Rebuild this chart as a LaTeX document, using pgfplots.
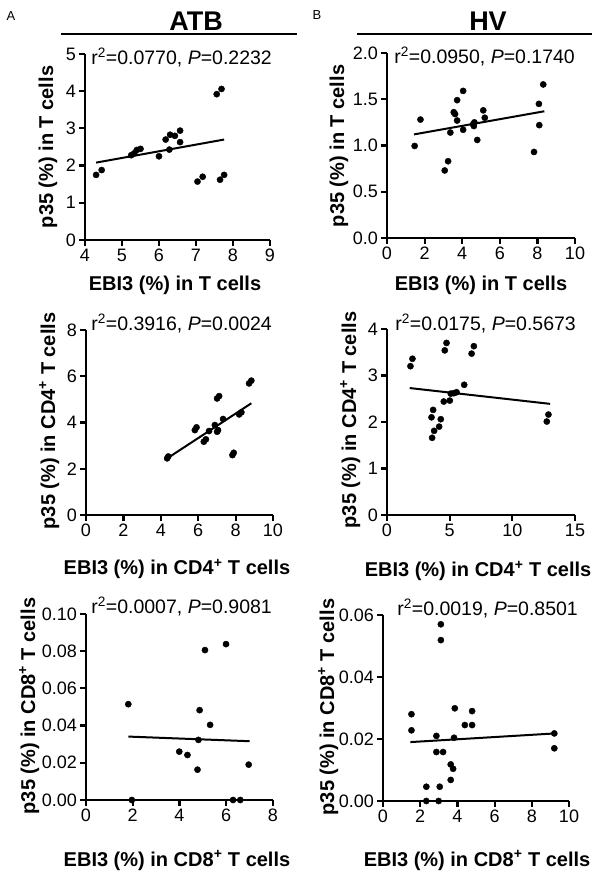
\documentclass[border=0pt]{standalone}
\usepackage{pgfplots}
\pgfplotsset{compat=1.18}
\usepackage{fontspec}
\setmainfont{Liberation Sans}
\pgfplotsset{
  panel/.style={
    scale only axis, anchor=south west,
    axis lines=left, axis line style={-, line width=2.2pt},
    tick align=outside, major tick length=6pt,
    tick style={line width=2.2pt, black},
    tick label style={font=\fontsize{18}{18}\selectfont, inner sep=3pt},
    /pgf/number format/assume math mode=true,
    scaled ticks=false,
    clip=false,
    minor tick num=0,
  },
  dots/.style={only marks, mark=*, mark size=3.1pt, black},
  fitl/.style={no marks, line width=2pt, black},
}
\newcommand{\lab}{\bfseries\fontsize{20}{20}\selectfont}
\newcommand{\ann}{\fontsize{19.5}{19.5}\selectfont}
\begin{document}
\begin{tikzpicture}[t/.style={inner sep=0pt}]
\path[use as bounding box] (0pt,0pt) rectangle (600pt,875pt);
% titles
\node[t, font=\bfseries\fontsize{27}{27}\selectfont, anchor=base] at (196pt,844pt) {ATB};
\draw[line width=1.6pt] (61pt,841pt) -- (297pt,841pt);
\node[t, font=\bfseries\fontsize{27}{27}\selectfont, anchor=base] at (488pt,844pt) {HV};
\draw[line width=1.6pt] (357pt,841pt) -- (592pt,841pt);
\node[t, font=\fontsize{13}{13}\selectfont, anchor=base] at (11pt,854pt) {A};
\node[t, font=\fontsize{13}{13}\selectfont, anchor=base] at (317pt,855pt) {B};

% Panel 1: ATB T cells
\begin{axis}[panel, at={(85pt,635pt)}, width=185pt, height=186pt,
  xmin=4, xmax=9, ymin=0, ymax=5, xtick={4,5,6,7,8,9}, ytick={0,1,2,3,4,5}]
\addplot[dots] coordinates {(4.30,1.75) (4.45,1.88) (5.25,2.28) (5.33,2.33) (5.40,2.42) (5.50,2.45)
 (6.00,2.25) (6.18,2.70) (6.28,2.43) (6.30,2.83) (6.43,2.80) (6.57,2.94) (6.57,2.63)
 (7.04,1.57) (7.18,1.70) (7.56,3.92) (7.69,4.06) (7.65,1.62) (7.76,1.75)};
\addplot[fitl] coordinates {(4.30,2.08) (7.76,2.70)};
\end{axis}
\node[t, font=\ann, anchor=base east] at (272pt,810pt) {r\textsuperscript{2}=0.0770, \textit{P}=0.2232};
\node[t, font=\lab, anchor=base] at (175pt,584pt) {EBI3 (\%) in T cells};
\node[t, font=\lab, anchor=base, rotate=90] at (53pt,728pt) {p35 (\%) in T cells};

% Panel 2: HV T cells
\begin{axis}[panel, at={(387pt,637pt)}, width=188pt, height=185pt,
  xmin=0, xmax=10, ymin=0, ymax=2, xtick={0,2,4,6,8,10}, ytick={0,0.5,1,1.5,2},
  yticklabel style={/pgf/number format/.cd, fixed, fixed zerofill, precision=1}]
\addplot[dots] coordinates {(1.47,0.995) (1.78,1.28) (3.07,0.73) (3.25,0.83) (3.37,1.14) (3.55,1.36)
 (3.62,1.34) (3.73,1.49) (3.73,1.27) (4.05,1.59) (4.05,1.17) (4.58,1.23) (4.62,1.21) (4.65,1.25)
 (4.80,1.06) (5.12,1.38) (5.20,1.30) (7.82,0.93) (8.08,1.45) (8.10,1.22) (8.31,1.66)};
\addplot[fitl] coordinates {(1.44,1.12) (8.37,1.37)};
\end{axis}
\node[t, font=\ann, anchor=base east] at (575pt,811pt) {r\textsuperscript{2}=0.0950, \textit{P}=0.1740};
\node[t, font=\lab, anchor=base] at (481pt,584pt) {EBI3 (\%) in T cells};
\node[t, font=\lab, anchor=base, rotate=90] at (344pt,729pt) {p35 (\%) in T cells};

% Panel 3: ATB CD4
\begin{axis}[panel, at={(86pt,360pt)}, width=187pt, height=185pt,
  xmin=0, xmax=10, ymin=0, ymax=8, xtick={0,2,4,6,8,10}, ytick={0,2,4,6,8}]
\addplot[dots] coordinates {(4.34,2.45) (4.40,2.53) (5.82,3.67) (5.91,3.79) (6.30,3.17) (6.41,3.27)
 (6.58,3.63) (6.89,3.89) (7.01,5.04) (7.12,5.14) (7.01,3.60) (7.06,3.67) (7.33,4.15)
 (7.83,2.59) (7.90,2.69) (8.19,4.35) (8.31,4.44) (8.72,5.69) (8.84,5.81)};
\addplot[fitl] coordinates {(4.27,2.41) (8.84,4.83)};
\end{axis}
\node[t, font=\ann, anchor=base east] at (272pt,544pt) {r\textsuperscript{2}=0.3916, \textit{P}=0.0024};
\node[t, font=\lab, anchor=base] at (177pt,300pt) {EBI3 (\%) in CD4\textsuperscript{+} T cells};
\node[t, font=\lab, anchor=base, rotate=90] at (55pt,454pt) {p35 (\%) in CD4\textsuperscript{+} T cells};

% Panel 4: HV CD4
\begin{axis}[panel, at={(387pt,360pt)}, width=188pt, height=186pt,
  xmin=0, xmax=15, ymin=0, ymax=4, xtick={0,5,10,15}, ytick={0,1,2,3,4}]
\addplot[dots] coordinates {(1.87,3.20) (2.03,3.36) (3.55,2.10) (3.68,2.26) (3.60,1.66) (3.76,1.81)
 (4.16,1.90) (4.29,2.06) (4.53,2.44) (5.01,2.46) (4.61,3.54) (4.75,3.70) (5.09,2.61) (5.33,2.62)
 (5.55,2.64) (6.16,2.80) (6.75,3.47) (6.93,3.63) (12.75,2.01) (12.88,2.16)};
\addplot[fitl] coordinates {(1.81,2.73) (13.01,2.39)};
\end{axis}
\node[t, font=\ann, anchor=base east] at (576pt,544pt) {r\textsuperscript{2}=0.0175, \textit{P}=0.5673};
\node[t, font=\lab, anchor=base] at (478pt,298pt) {EBI3 (\%) in CD4\textsuperscript{+} T cells};
\node[t, font=\lab, anchor=base, rotate=90] at (356pt,455pt) {p35 (\%) in CD4\textsuperscript{+} T cells};

% Panel 5: ATB CD8
\begin{axis}[panel, at={(86pt,75pt)}, width=187pt, height=186pt,
  xmin=0, xmax=8, ymin=0, ymax=0.1, xtick={0,2,4,6,8}, ytick={0,0.02,0.04,0.06,0.08,0.1},
  yticklabel style={/pgf/number format/.cd, fixed, fixed zerofill, precision=2}]
\addplot[dots] coordinates {(1.81,0.0515) (1.96,0) (3.99,0.0260) (4.34,0.0242) (4.86,0.0483)
 (4.81,0.0323) (4.77,0.0163) (5.09,0.0806) (5.31,0.0404) (5.99,0.0838) (6.29,0) (6.60,0) (6.96,0.0190)};
\addplot[fitl] coordinates {(1.81,0.0341) (7.00,0.0316)};
\end{axis}
\node[t, font=\ann, anchor=base east] at (272pt,261pt) {r\textsuperscript{2}=0.0007, \textit{P}=0.9081};
\node[t, font=\lab, anchor=base] at (177pt,9pt) {EBI3 (\%) in CD8\textsuperscript{+} T cells};
\node[t, font=\lab, anchor=base, rotate=90] at (35pt,169pt) {p35 (\%) in CD8\textsuperscript{+} T cells};

% Panel 6: HV CD8
\begin{axis}[panel, at={(383pt,74pt)}, width=186pt, height=186pt,
  xmin=0, xmax=10, ymin=0, ymax=0.06, xtick={0,2,4,6,8,10}, ytick={0,0.02,0.04,0.06},
  yticklabel style={/pgf/number format/.cd, fixed, fixed zerofill, precision=2}]
\addplot[dots] coordinates {(1.53,0.0280) (1.53,0.0228) (2.33,0.0046) (2.33,0) (2.87,0.0210) (2.87,0.0158)
 (2.99,0) (3.05,0.0046) (3.11,0.0570) (3.11,0.0519) (3.23,0.0158) (3.64,0.0118) (3.64,0.0068)
 (3.77,0.0104) (3.82,0.0204) (3.86,0.0299) (4.40,0.0245) (4.79,0.0245) (4.79,0.0290)
 (9.21,0.0218) (9.21,0.0170)};
\addplot[fitl] coordinates {(1.47,0.0190) (9.25,0.0218)};
\end{axis}
\node[t, font=\ann, anchor=base east] at (578pt,259pt) {r\textsuperscript{2}=0.0019, \textit{P}=0.8501};
\node[t, font=\lab, anchor=base] at (477pt,9pt) {EBI3 (\%) in CD8\textsuperscript{+} T cells};
\node[t, font=\lab, anchor=base, rotate=90] at (334pt,168pt) {p35 (\%) in CD8\textsuperscript{+} T cells};
\end{tikzpicture}
\end{document}
